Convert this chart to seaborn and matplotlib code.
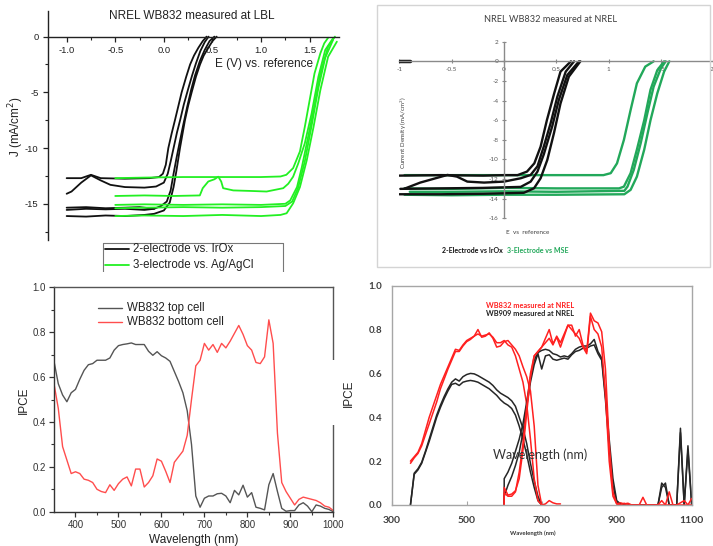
import matplotlib
matplotlib.use("Agg")
import matplotlib.pyplot as plt
import seaborn as sns
from matplotlib.patches import Rectangle
from matplotlib.lines import Line2D
from matplotlib.ticker import FixedLocator, MultipleLocator

sns.set_style("white")
plt.rcParams['font.family'] = ['Liberation Sans', 'DejaVu Sans']

# ================= DATA =================
# Panel A: NREL WB832 measured at LBL  (E in V, J in mA/cm2)
lbl_2e_a_E = [-1.0, -0.85, -0.75, -0.65, -0.4, -0.15, -0.05, -0.01, 0.02, 0.046, 0.08, 0.114, 0.15, 0.183, 0.23, 0.27, 0.31, 0.355, 0.40, 0.44]
lbl_2e_a_J = [-12.7, -12.7, -12.4, -12.7, -12.75, -12.7, -12.6, -12.3, -11.5, -10.0, -8.7, -7.5, -6.2, -5.0, -3.6, -2.5, -1.7, -1.0, -0.4, 0.0]
lbl_2e_b_E = [-1.0, -0.95, -0.85, -0.75, -0.65, -0.55, -0.4, -0.2, -0.08, 0.0, 0.04, 0.07, 0.1, 0.135, 0.17, 0.205, 0.25, 0.29, 0.33, 0.375, 0.42, 0.46]
lbl_2e_b_J = [-14.1, -13.9, -13.1, -12.45, -12.9, -13.3, -13.5, -13.55, -13.45, -13.1, -12.3, -11.2, -10.0, -8.6, -7.4, -6.1, -4.7, -3.5, -2.4, -1.3, -0.5, 0.0]
lbl_2e_c_E = [-1.0, -0.8, -0.6, -0.4, -0.2, -0.1, -0.03, 0.03, 0.07, 0.1, 0.13, 0.16, 0.2, 0.24, 0.28, 0.32, 0.37, 0.42, 0.47, 0.52]
lbl_2e_c_J = [-15.55, -15.45, -15.5, -15.45, -15.55, -15.45, -15.2, -14.8, -13.8, -12.3, -10.9, -9.6, -7.9, -6.3, -4.8, -3.5, -2.2, -1.2, -0.4, 0.0]
lbl_2e_d_E = [-1.0, -0.8, -0.6, -0.4, -0.2, -0.1, 0.0, 0.06, 0.1, 0.13, 0.166, 0.217, 0.25, 0.286, 0.33, 0.372, 0.41, 0.458, 0.5, 0.543]
lbl_2e_d_J = [-16.1, -16.15, -16.05, -16.1, -16.0, -15.9, -15.6, -14.9, -13.5, -12.0, -10.0, -7.5, -6.2, -5.0, -3.6, -2.5, -1.7, -1.0, -0.4, 0.0]
lbl_2e_e_E = [-1.0, -0.8, -0.6, -0.4, -0.25, -0.1]
lbl_2e_e_J = [-15.35, -15.3, -15.4, -15.35, -15.3, -15.45]

lbl_3e_a_E = [-0.5, -0.2, 0.2, 0.6, 1.0, 1.2, 1.26, 1.33, 1.40, 1.45, 1.50, 1.55, 1.61, 1.65, 1.69]
lbl_3e_a_J = [-12.7, -12.65, -12.6, -12.6, -12.6, -12.55, -12.4, -11.8, -10.3, -8.1, -5.7, -3.3, -1.5, -0.6, -0.1]
lbl_3e_b_E = [-0.5, -0.2, 0.1, 0.37, 0.40, 0.457, 0.52, 0.56, 0.59, 0.61, 0.714, 0.9, 1.057, 1.228, 1.28, 1.33, 1.383, 1.45, 1.52, 1.59, 1.66, 1.74]
lbl_3e_b_J = [-14.3, -14.25, -14.3, -14.25, -13.6, -13.0, -12.8, -12.57, -13.0, -13.6, -13.8, -13.85, -13.9, -13.6, -13.2, -12.57, -11.37, -9.57, -6.9, -3.6, -1.2, -0.15]
lbl_3e_c_E = [-0.5, -0.2, 0.2, 0.6, 1.0, 1.25, 1.30, 1.37, 1.42, 1.47, 1.54, 1.61, 1.69, 1.76]
lbl_3e_c_J = [-15.1, -15.05, -15.1, -15.05, -15.1, -15.0, -14.7, -13.5, -11.7, -9.6, -6.6, -3.3, -0.9, 0.0]
lbl_3e_d_E = [-0.5, -0.2, 0.2, 0.6, 1.0, 1.2, 1.263, 1.33, 1.40, 1.47, 1.54, 1.61, 1.69, 1.78]
lbl_3e_d_J = [-16.1, -16.05, -16.1, -16.0, -16.1, -16.0, -15.85, -14.96, -13.5, -11.1, -8.1, -4.8, -1.8, -0.45]
lbl_3e_e_E = [-0.5, -0.2, 0.2, 0.6, 1.0, 1.25, 1.32, 1.38, 1.45, 1.52, 1.59, 1.66, 1.74]
lbl_3e_e_J = [-15.4, -15.35, -15.3, -15.35, -15.3, -15.2, -14.8, -13.6, -11.2, -8.0, -4.6, -1.9, -0.3]

# Panel B: NREL WB832 measured at NREL
nrel_2e_a_E = [-1.0, -0.6, -0.2, 0.0, 0.13, 0.22, 0.29, 0.35, 0.41, 0.48, 0.54, 0.64]
nrel_2e_a_J = [-11.65, -11.6, -11.65, -11.6, -11.6, -11.24, -10.4, -8.7, -6.0, -3.26, -1.05, 0.0]
nrel_2e_b_E = [-0.955, -0.8, -0.54, -0.45, -0.35, -0.19, 0.0, 0.16, 0.255, 0.32, 0.38, 0.446, 0.51, 0.59, 0.67]
nrel_2e_b_J = [-13.0, -12.36, -11.58, -11.75, -12.26, -12.36, -12.26, -11.92, -11.58, -10.7, -8.7, -6.3, -3.6, -1.05, 0.0]
nrel_2e_c_E = [-0.99, -0.6, -0.2, 0.16, 0.255, 0.32, 0.38, 0.46, 0.525, 0.605, 0.717]
nrel_2e_c_J = [-13.0, -12.95, -12.9, -12.8, -12.26, -11.24, -9.5, -6.66, -3.9, -1.4, 0.0]
nrel_2e_d_E = [-1.0, -0.6, -0.2, 0.19, 0.287, 0.35, 0.414, 0.478, 0.54, 0.62, 0.73]
nrel_2e_d_J = [-13.55, -13.55, -13.5, -13.4, -12.94, -11.92, -10.05, -7.3, -4.3, -1.56, 0.0]
nrel_2e_z_E = [-1.0, -0.9]
nrel_2e_z_J = [0.0, 0.0]

nrel_3e_a_E = [-0.95, -0.5, 0.0, 0.5, 0.95, 1.02, 1.08, 1.146, 1.21, 1.27, 1.35, 1.43]
nrel_3e_a_J = [-11.6, -11.6, -11.6, -11.6, -11.6, -11.4, -10.4, -8.0, -4.96, -2.24, -0.54, 0.0]
nrel_3e_b_E = [-0.95, -0.5, 0.0, 0.5, 1.1, 1.146, 1.21, 1.27, 1.34, 1.40, 1.465, 1.53]
nrel_3e_b_J = [-12.95, -13.0, -12.9, -12.95, -12.95, -12.77, -11.4, -9.0, -6.0, -2.9, -0.9, 0.0]
nrel_3e_c_E = [-0.9, -0.5, 0.0, 0.5, 1.15, 1.18, 1.24, 1.306, 1.37, 1.43, 1.50, 1.545]
nrel_3e_c_J = [-13.3, -13.3, -13.25, -13.3, -13.2, -12.77, -11.07, -8.36, -5.3, -2.58, -0.7, 0.0]
nrel_3e_d_E = [-0.95, -0.5, 0.0, 0.5, 1.15, 1.21, 1.27, 1.34, 1.40, 1.465, 1.53, 1.58]
nrel_3e_d_J = [-13.6, -13.65, -13.6, -13.6, -13.55, -13.1, -11.75, -9.0, -6.0, -3.26, -1.05, 0.0]

# Panel C: IPCE WB832 (LBL)
ipce_wl = [350, 360, 370, 380, 390, 400, 410, 420, 430, 440, 450, 460, 470, 480, 490,
           500, 510, 520, 530, 540, 550, 560, 570, 580, 590, 600, 610, 620, 630, 640,
           650, 660, 670, 680, 690, 700, 710, 720, 730, 740, 750, 760, 770, 780, 790,
           800, 810, 820, 830, 840, 850, 860, 870, 880, 890, 900, 910, 920, 930, 940,
           950, 960, 970, 980, 990, 1000]
ipce_top = [0.67, 0.57, 0.52, 0.49, 0.53, 0.545, 0.59, 0.63, 0.655, 0.66, 0.675, 0.675, 0.675, 0.685, 0.72,
            0.74, 0.745, 0.748, 0.752, 0.745, 0.745, 0.745, 0.715, 0.697, 0.713, 0.695, 0.685, 0.67, 0.625, 0.58,
            0.53, 0.45, 0.30, 0.07, 0.02, 0.06, 0.07, 0.07, 0.08, 0.082, 0.07, 0.04, 0.095, 0.075, 0.118,
            0.065, 0.085, 0.02, 0.015, 0.008, 0.12, 0.17, 0.09, 0.015, 0.002, 0.005, 0.005, 0.03, 0.04, 0.025,
            0.0, 0.03, 0.025, 0.015, 0.01, 0.0]
ipce_bottom = [0.57, 0.46, 0.29, 0.23, 0.17, 0.178, 0.17, 0.145, 0.14, 0.13, 0.10, 0.09, 0.085, 0.12, 0.095,
               0.125, 0.145, 0.155, 0.115, 0.19, 0.19, 0.11, 0.13, 0.16, 0.235, 0.225, 0.18, 0.13, 0.22, 0.245,
               0.27, 0.34, 0.50, 0.65, 0.675, 0.75, 0.72, 0.745, 0.71, 0.75, 0.73, 0.76, 0.795, 0.83, 0.79,
               0.74, 0.72, 0.665, 0.66, 0.69, 0.855, 0.75, 0.35, 0.13, 0.09, 0.06, 0.03, 0.055, 0.065, 0.06,
               0.055, 0.05, 0.04, 0.025, 0.02, 0.005]

# Panel D: IPCE measured at NREL
top_wl = [350, 360, 370, 380, 390, 400, 410, 420, 430, 440, 450, 460, 470, 480, 490, 500, 510, 520,
          530, 540, 550, 560, 570, 580, 590, 600, 610, 620, 630, 640, 650, 660, 670, 680, 690, 700]
wb832_top_a = [0.19, 0.215, 0.235, 0.27, 0.32, 0.37, 0.42, 0.47, 0.53, 0.575, 0.62, 0.66, 0.70, 0.70, 0.725, 0.745, 0.755, 0.77,
               0.80, 0.765, 0.77, 0.785, 0.76, 0.72, 0.725, 0.745, 0.75, 0.73, 0.71, 0.68, 0.63, 0.585, 0.52, 0.36, 0.09, 0.0]
wb832_top_b = [0.20, 0.22, 0.24, 0.28, 0.34, 0.40, 0.45, 0.50, 0.55, 0.59, 0.63, 0.67, 0.71, 0.705, 0.73, 0.75, 0.76, 0.77,
               0.78, 0.77, 0.775, 0.78, 0.765, 0.74, 0.74, 0.75, 0.73, 0.72, 0.68, 0.62, 0.56, 0.46, 0.30, 0.12, 0.02, 0.0]
wb909_top_a = [0.0, 0.145, 0.165, 0.195, 0.245, 0.30, 0.355, 0.41, 0.455, 0.495, 0.53, 0.56, 0.575, 0.565, 0.585, 0.595, 0.60, 0.598,
               0.59, 0.58, 0.57, 0.56, 0.545, 0.525, 0.51, 0.50, 0.49, 0.475, 0.45, 0.40, 0.35, 0.28, 0.19, 0.11, 0.04, 0.0]
wb909_top_b = [0.0, 0.14, 0.16, 0.19, 0.24, 0.29, 0.345, 0.40, 0.445, 0.485, 0.52, 0.55, 0.555, 0.545, 0.56, 0.565, 0.568, 0.565,
               0.56, 0.55, 0.54, 0.53, 0.515, 0.50, 0.48, 0.465, 0.455, 0.44, 0.41, 0.36, 0.30, 0.23, 0.15, 0.08, 0.02, 0.0]
red_tail_wl = [700, 710, 720, 730, 740, 750]
wb832_tail = [0.0, 0.005, 0.02, 0.01, 0.005, 0.005]

bot_wl = [600, 600, 610, 620, 630, 640, 650, 660, 670, 680, 690, 700, 710, 720, 730, 740, 750, 760, 770, 780,
          790, 800, 810, 820, 830, 840, 850, 860, 870, 880, 890, 900, 910, 920, 930, 940, 950, 960, 970, 980,
          990, 1000, 1010, 1020, 1030, 1040, 1050, 1060, 1070, 1080, 1090, 1100]
wb832_bot_a = [0.0, 0.08, 0.045, 0.05, 0.065, 0.12, 0.25, 0.42, 0.58, 0.68, 0.70, 0.72, 0.76, 0.80, 0.735, 0.765, 0.72, 0.77, 0.82, 0.82,
               0.77, 0.80, 0.73, 0.70, 0.875, 0.84, 0.83, 0.79, 0.62, 0.28, 0.06, 0.005, 0.01, 0.005, 0.008, 0.0, 0.0, 0.0, 0.035, 0.0,
               0.0, 0.0, 0.0, 0.02, 0.0, 0.06, 0.0, 0.0, 0.01, 0.02, 0.0, 0.03]
wb832_bot_b = [0.0, 0.055, 0.04, 0.04, 0.06, 0.15, 0.28, 0.45, 0.60, 0.68, 0.70, 0.72, 0.74, 0.76, 0.73, 0.77, 0.74, 0.78, 0.82, 0.80,
               0.78, 0.76, 0.72, 0.69, 0.86, 0.80, 0.78, 0.72, 0.50, 0.20, 0.04, 0.005, 0.0, 0.008, 0.0, 0.0, 0.0, 0.0, 0.0, 0.0,
               0.0, 0.0, 0.0, 0.0, 0.0, 0.0, 0.0, 0.0, 0.0, 0.0, 0.0, 0.0]
wb909_bot_a = [0.0, 0.12, 0.15, 0.19, 0.245, 0.30, 0.37, 0.47, 0.58, 0.66, 0.695, 0.705, 0.71, 0.705, 0.69, 0.685, 0.675, 0.68, 0.675, 0.69,
               0.71, 0.72, 0.725, 0.725, 0.735, 0.755, 0.70, 0.67, 0.50, 0.30, 0.12, 0.02, 0.005, 0.0, 0.0, 0.0, 0.0, 0.0, 0.0, 0.0,
               0.0, 0.0, 0.0, 0.08, 0.10, 0.0, 0.0, 0.0, 0.35, 0.0, 0.27, 0.0]
wb909_bot_b = [0.0, 0.04, 0.09, 0.13, 0.18, 0.24, 0.33, 0.45, 0.56, 0.64, 0.69, 0.62, 0.68, 0.685, 0.665, 0.66, 0.665, 0.67, 0.665, 0.685,
               0.70, 0.705, 0.715, 0.715, 0.725, 0.73, 0.69, 0.66, 0.48, 0.26, 0.09, 0.01, 0.005, 0.0, 0.0, 0.0, 0.0, 0.0, 0.0, 0.0,
               0.0, 0.0, 0.0, 0.10, 0.08, 0.0, 0.0, 0.0, 0.33, 0.0, 0.25, 0.0]

# ================= FIGURE =================
W, H = 713, 546
fig = plt.figure(figsize=(W / 100, H / 100), dpi=100)
fig.patch.set_facecolor("white")


def px_axes(x0, y0, x1, y1):
    ax = fig.add_axes([x0 / W, 1 - y1 / H, (x1 - x0) / W, (y1 - y0) / H])
    ax.set_facecolor("none")
    return ax


def fx(x):
    return x / W


def fy(y):
    return 1 - y / H


def line(ax, x, y, color, lw):
    sns.lineplot(x=x, y=y, ax=ax, color=color, lw=lw, sort=False, estimator=None, legend=False)


# ---------- Panel A ----------
GREEN_A = "#22f022"
ax1 = px_axes(47.7, 11, 339.3, 240)
for E, J in [(lbl_2e_a_E, lbl_2e_a_J), (lbl_2e_b_E, lbl_2e_b_J), (lbl_2e_c_E, lbl_2e_c_J),
             (lbl_2e_d_E, lbl_2e_d_J), (lbl_2e_e_E, lbl_2e_e_J)]:
    line(ax1, E, J, "#111111", 1.3)
for E, J in [(lbl_3e_a_E, lbl_3e_a_J), (lbl_3e_b_E, lbl_3e_b_J), (lbl_3e_c_E, lbl_3e_c_J),
             (lbl_3e_d_E, lbl_3e_d_J), (lbl_3e_e_E, lbl_3e_e_J)]:
    line(ax1, E, J, GREEN_A, 1.3)
ax1.set_xlim(-1.195, 1.805)
ax1.set_ylim(-18.25, 2.3)
ax1.spines['top'].set_visible(False)
ax1.spines['right'].set_visible(False)
ax1.spines['bottom'].set_position(('data', 0))
for s in ['left', 'bottom']:
    ax1.spines[s].set_color('#222222')
    ax1.spines[s].set_linewidth(1.0)
ax1.xaxis.set_major_locator(FixedLocator([-1.0, -0.5, 0.0, 0.5, 1.0, 1.5]))
ax1.xaxis.set_minor_locator(FixedLocator([-0.75, -0.25, 0.25, 0.75, 1.25]))
ax1.set_xticklabels(["-1.0", "-0.5", "0.0", "0.5", "1.0", "1.5"])
ax1.yaxis.set_major_locator(FixedLocator([-15, -10, -5, 0]))
ax1.yaxis.set_minor_locator(FixedLocator([-17.5, -12.5, -7.5, -2.5]))
ax1.set_yticklabels(["-15", "-10", "-5", "0"])
ax1.tick_params(axis='both', which='major', direction='out', length=3.5, width=0.9,
                labelsize=6.8, colors='#222222', pad=3, bottom=True, left=True)
ax1.tick_params(axis='both', which='minor', direction='out', length=2, width=0.8,
                colors='#222222', bottom=True, left=True)
ax1.set_xlabel("")
ax1.set_ylabel("")
fig.text(fx(192), fy(16), "NREL WB832 measured at LBL", ha='center', va='center', fontsize=8.5, color='#222222')
fig.text(fx(264), fy(64), "E (V) vs. reference", ha='center', va='center', fontsize=8.5, color='#222222')
fig.text(fx(16.5), fy(127), "J (mA/cm$^2$)", ha='center', va='center', rotation=90, fontsize=8.5, color='#222222')
# legend (frame open at the bottom as in the cropped original)
for xs, ys in [([103, 103], [272, 243]), ([103, 283], [243, 243]), ([283, 283], [243, 272])]:
    fig.add_artist(Line2D([fx(v) for v in xs], [fy(v) for v in ys], color='#777777', lw=0.8))
fig.add_artist(Line2D([fx(105), fx(129)], [fy(249), fy(249)], color='#111111', lw=1.3))
fig.add_artist(Line2D([fx(105), fx(129)], [fy(265), fy(265)], color=GREEN_A, lw=1.3))
fig.text(fx(133), fy(249.5), "2-electrode vs. IrOx", ha='left', va='center', fontsize=8.3, color='#222222')
fig.text(fx(133), fy(265), "3-electrode vs. Ag/AgCl", ha='left', va='center', fontsize=8.3, color='#222222')
fig.add_artist(Rectangle((fx(95), fy(282)), fx(200), 10.5 / H, transform=fig.transFigure,
                         facecolor='white', edgecolor='none', zorder=10))

# ---------- Panel B ----------
GREEN_B = "#22a85a"
fig.add_artist(Rectangle((fx(377), fy(267)), fx(333), 262 / H, transform=fig.transFigure,
                         facecolor='none', edgecolor='#d4d4d4', lw=1.0, zorder=0.5))
ax2 = px_axes(399.3, 36.8, 713.3, 223.2)
for E, J in [(nrel_3e_a_E, nrel_3e_a_J), (nrel_3e_b_E, nrel_3e_b_J), (nrel_3e_c_E, nrel_3e_c_J),
             (nrel_3e_d_E, nrel_3e_d_J)]:
    line(ax2, E, J, GREEN_B, 1.7)
for E, J in [(nrel_2e_a_E, nrel_2e_a_J), (nrel_2e_b_E, nrel_2e_b_J), (nrel_2e_c_E, nrel_2e_c_J),
             (nrel_2e_d_E, nrel_2e_d_J)]:
    line(ax2, E, J, "#111111", 1.7)
line(ax2, nrel_2e_z_E, nrel_2e_z_J, "#111111", 2.5)
ax2.set_xlim(-1.0, 2.0)
ax2.set_ylim(-16.5, 2.5)
ax2.spines['top'].set_visible(False)
ax2.spines['right'].set_visible(False)
ax2.spines['left'].set_position(('data', 0))
ax2.spines['bottom'].set_position(('data', 0))
ax2.spines['left'].set_bounds(-16, 2)
ax2.spines['bottom'].set_bounds(-1, 2)
for s in ['left', 'bottom']:
    ax2.spines[s].set_color('#8a8a8a')
    ax2.spines[s].set_linewidth(1.0)
ax2.xaxis.set_major_locator(FixedLocator([-1, -0.5, 0, 0.5, 1, 1.5, 2]))
ax2.set_xticklabels(["-1", "-0.5", "0", "0.5", "1", "1.5", "2"])
ax2.set_yticks([-16, -14, -12, -10, -8, -6, -4, -2, 0, 2])
ax2.set_yticklabels(["-16", "-14", "-12", "-10", "-8", "-6", "-4", "-2", "0", "2"])
ax2.tick_params(axis='both', which='major', direction='inout', length=3, width=0.8,
                labelsize=4.6, colors='#8a8a8a', labelcolor='#555555', pad=2.5, bottom=True, left=True)
for lab in ax2.get_xticklabels() + ax2.get_yticklabels():
    lab.set_family(['Lato', 'DejaVu Sans'])
ax2.get_xticklabels()[-1].set_horizontalalignment('right')
ax2.set_xlabel("")
ax2.set_ylabel("")
fig.text(fx(551), fy(20), "NREL WB832 measured at NREL", ha='center', va='center', fontsize=6.6,
         color='#404040', family=['Lato', 'DejaVu Sans'])
fig.text(fx(404), fy(133), "Current Density (mA/cm$^2$)", ha='center', va='center', rotation=90,
         fontsize=4.4, color='#404040', family=['Lato', 'DejaVu Sans'])
fig.text(fx(528), fy(233), "E  vs  reference", ha='center', va='center', fontsize=4.6,
         color='#404040', family=['Lato', 'DejaVu Sans'])
fig.text(fx(503), fy(251), "2-Electrode vs IrOx", ha='right', va='center', fontsize=5.0,
         fontweight='bold', color='#111111', family=['Lato', 'DejaVu Sans'])
fig.text(fx(507), fy(251), "3-Electrode vs MSE", ha='left', va='center', fontsize=5.0,
         fontweight='bold', color=GREEN_B, family=['Lato', 'DejaVu Sans'])

# ---------- Panel C ----------
GRAY_C = "#555555"
RED_C = "#ff4d4d"
ax3 = px_axes(54.0, 287.3, 333.3, 511.7)
line(ax3, ipce_wl, ipce_top, GRAY_C, 1.0)
line(ax3, ipce_wl, ipce_bottom, RED_C, 1.0)
ax3.set_xlim(350, 1000)
ax3.set_ylim(0, 1.0)
for s in ['left', 'bottom']:
    ax3.spines[s].set_color('#333333')
for s in ['top', 'right']:
    ax3.spines[s].set_color('#555555')
for s in ax3.spines.values():
    s.set_linewidth(1.0)
ax3.xaxis.set_major_locator(FixedLocator([400, 500, 600, 700, 800, 900, 1000]))
ax3.xaxis.set_minor_locator(FixedLocator([450, 550, 650, 750, 850, 950]))
ax3.yaxis.set_major_locator(MultipleLocator(0.2))
ax3.yaxis.set_minor_locator(MultipleLocator(0.1))
ax3.set_yticks([0.0, 0.2, 0.4, 0.6, 0.8, 1.0])
ax3.set_yticklabels(["0.0", "0.2", "0.4", "0.6", "0.8", "1.0"])
ax3.tick_params(axis='both', which='major', direction='out', length=3.5, width=0.9,
                labelsize=7, colors='#333333', pad=2.5, bottom=True, left=True)
ax3.tick_params(axis='both', which='minor', direction='out', length=2, width=0.8,
                colors='#333333', bottom=True, left=True)
ax3.set_xlabel("")
ax3.set_ylabel("")
fig.text(fx(24), fy(400), "IPCE", ha='center', va='center', rotation=90, fontsize=8.5, color='#222222')
fig.text(fx(194), fy(539.5), "Wavelength (nm)", ha='center', va='center', fontsize=8.5, color='#222222')
fig.add_artist(Line2D([fx(98), fx(122)], [fy(307.5), fy(307.5)], color=GRAY_C, lw=1.0))
fig.add_artist(Line2D([fx(98), fx(122)], [fy(321.5), fy(321.5)], color=RED_C, lw=1.0))
fig.text(fx(127), fy(308), "WB832 top cell", ha='left', va='center', fontsize=8.3, color='#222222')
fig.text(fx(127), fy(322), "WB832 bottom cell", ha='left', va='center', fontsize=8.3, color='#222222')

# ---------- Panel D ----------
RED_D = "#ff2020"
BLK_D = "#262626"
ax4 = px_axes(391.7, 285.7, 691.7, 505.0)
line(ax4, top_wl, wb909_top_a, BLK_D, 1.1)
line(ax4, top_wl, wb909_top_b, BLK_D, 1.1)
line(ax4, top_wl, wb832_top_a, RED_D, 1.1)
line(ax4, top_wl, wb832_top_b, RED_D, 1.1)
line(ax4, red_tail_wl, wb832_tail, RED_D, 1.1)
line(ax4, bot_wl, wb909_bot_a, BLK_D, 1.1)
line(ax4, bot_wl, wb909_bot_b, BLK_D, 1.1)
line(ax4, bot_wl, wb832_bot_a, RED_D, 1.1)
line(ax4, bot_wl, wb832_bot_b, RED_D, 1.1)
ax4.set_xlim(300, 1100)
ax4.set_ylim(0, 1.0)
for s in ax4.spines.values():
    s.set_color('#a6a6a6')
    s.set_linewidth(1.0)
ax4.set_xticks([300, 500, 700, 900, 1100])
ax4.set_xticklabels(["300", "500", "700", "900", "1100"])
ax4.set_yticks([0.0, 0.2, 0.4, 0.6, 0.8, 1.0])
ax4.set_yticklabels(["0.0", "0.2", "0.4", "0.6", "0.8", "1.0"])
ax4.tick_params(axis='x', which='major', direction='in', length=3, width=0.8, colors='#a6a6a6',
                labelcolor='#404040', labelsize=7.5, pad=8, bottom=True)
ax4.tick_params(axis='y', which='major', length=0, labelcolor='#404040', labelsize=7.0, pad=7, left=True)
for lab in ax4.get_xticklabels() + ax4.get_yticklabels():
    lab.set_family(['Lato', 'DejaVu Sans'])
    lab.set_fontweight('bold')
ax4.set_xlabel("")
ax4.set_ylabel("")
fig.text(fx(530), fy(305), "WB832 measured at NREL", ha='center', va='center', fontsize=5.3,
         fontweight='bold', color=RED_D, family=['Lato', 'DejaVu Sans'])
fig.text(fx(530), fy(313.5), "WB909 measured at NREL", ha='center', va='center', fontsize=5.3,
         fontweight='bold', color='#222222', family=['Lato', 'DejaVu Sans'])
fig.text(fx(540), fy(455), "Wavelength (nm)", ha='center', va='center', fontsize=9,
         color='#333333', family=['Lato', 'DejaVu Sans'], zorder=5)
fig.text(fx(533), fy(533), "Wavelength (nm)", ha='center', va='center', fontsize=4.3,
         fontweight='bold', color='#333333', family=['Lato', 'DejaVu Sans'])
# white patch breaking the right spine of panel C around the IPCE label
fig.add_artist(Rectangle((fx(329), fy(425)), fx(9), 65 / H, transform=fig.transFigure,
                         facecolor='white', edgecolor='none', zorder=5))
fig.text(fx(348.5), fy(393), "IPCE", ha='center', va='center', rotation=90, fontsize=8.5,
         color='#222222', zorder=6)

fig.savefig("out.png", dpi=100, facecolor='white')
